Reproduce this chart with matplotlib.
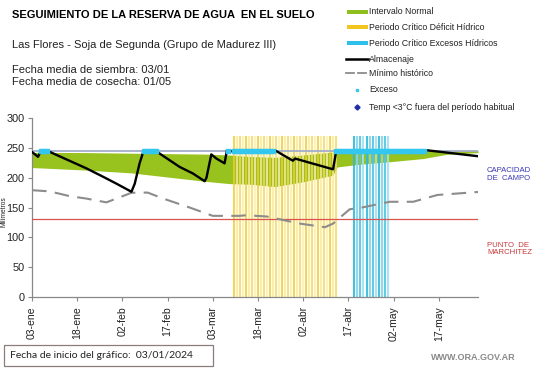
import matplotlib
matplotlib.use("Agg")
import matplotlib.pyplot as plt
from matplotlib.lines import Line2D
from matplotlib.patches import Rectangle
import numpy as np

plt.rcParams['font.family'] = ['Liberation Sans', 'DejaVu Sans']

# ---------------- data ----------------
tick_days = [0, 15, 30, 45, 60, 75, 90, 105, 120, 135]
tick_labels = ['03-ene', '18-ene', '02-feb', '17-feb', '03-mar', '18-mar',
               '02-abr', '17-abr', '02-may', '17-may']

# Almacenaje (days since 03-ene, mm)
alm_days = [0, 2.0, 3.1, 4.8, 7.0, 18.1, 23.6, 28.0, 33.0, 34.1, 35.7, 37.1,
            40.7, 49.0, 53.4, 57.3, 57.9, 59.5, 61.2, 63.9, 64.7, 65.6, 66.6,
            67.0, 80.6, 86.0, 86.6, 87.3, 99.9, 101.0, 130.9, 147.9]
alm_vals = [243, 235, 246, 246, 240.7, 215.5, 201.5, 190, 176.4, 190, 224, 246,
            246, 218, 207, 194, 200, 239, 232, 224, 246, 246, 243.5,
            246, 246, 230, 228.5, 232, 214, 246, 246, 236]

# Minimo historico
min_days = [0, 5.9, 12.5, 18, 24.7, 33, 38.4, 43.5, 52.3, 60, 68.9, 71, 77.8,
            80.6, 88.9, 97.2, 99.9, 105.4, 109.5, 118.7, 126.5, 134.5, 148]
min_vals = [179, 177, 169, 165, 158.6, 174.7, 175, 165, 150, 136, 136, 137, 135,
            132, 123, 117, 123, 147, 150, 159.6, 159.6, 171, 176]

# Intervalo normal
band_days = [0, 18, 33, 57.3, 65.6, 72.4, 80.6, 89.9, 99.8, 101.3, 107.9,
             118.7, 129.7, 137.5, 148]
band_low = [217, 212.7, 208, 194, 190, 189, 185, 193, 204, 218, 222,
            226.7, 232, 239, 242]
band_high = [242.5, 242, 241, 239.5, 238, 235.5, 234, 238, 243, 245, 245.5,
             245.5, 245.5, 245.5, 245.5]

# Excess periods (start day, end day)
exceso_periods = [(3, 5), (37, 41), (65, 65), (67, 80), (101, 130)]
# Critical periods (daily bars)
deficit_period = (67, 101)
excesos_period = (107, 118)
bar_top = 270

capacidad_campo = 245.5
punto_marchitez = 130.5

# ---------------- figure ----------------
W, H = 541, 368
fig = plt.figure(figsize=(W / 100, H / 100), dpi=100)
ax = fig.add_axes([32 / W, 1 - 297 / H, (478 - 32) / W, (297 - 118) / H])

ax.fill_between(band_days, band_low, band_high, color='#98C21D', lw=0, zorder=1)

# critical periods as daily vertical bars
ycols = ['#EFCB35', '#F9EA96', '#F4DA62', '#FBEFAE']
for i, d in enumerate(range(deficit_period[0], deficit_period[1] + 1)):
    ax.vlines(d, 0, bar_top, color=ycols[i % len(ycols)], lw=1.5, alpha=0.8, zorder=2)
ccols = ['#35B9DC', '#86D5EA', '#55C5E2', '#A2E0EF']
for i, d in enumerate(range(excesos_period[0], excesos_period[1] + 1)):
    ax.vlines(d, 0, bar_top, color=ccols[i % len(ccols)], lw=1.5, alpha=0.9, zorder=2)

ax.axhline(capacidad_campo, color='#A3AECB', lw=1.3, zorder=3)
ax.axhline(punto_marchitez, color='#D9534F', lw=0.9, zorder=3)

ax.plot(min_days, min_vals, color='#8C8C8C', lw=1.5, dashes=(7, 4), zorder=4)
ax.plot(alm_days, alm_vals, color='black', lw=1.7, zorder=5)

ex_days = []
for a, b in exceso_periods:
    ex_days.extend(range(a, b + 1))
ax.plot(ex_days, [capacidad_campo] * len(ex_days), ls='none', marker='s',
        ms=2.3, color='#33C6EE', mec='#33C6EE', zorder=6)

ax.set_xlim(0, 148)
ax.set_ylim(0, 300)
ax.set_yticks(range(0, 301, 50))
ax.set_xticks(tick_days)
ax.set_xticklabels(tick_labels, rotation=90, fontsize=7.5, color='#222222')
ax.tick_params(axis='y', labelsize=7.8, colors='#222222', length=3, width=0.8, pad=2.5)
ax.tick_params(axis='x', length=3, width=0.8, color='#888888')
ax.tick_params(axis='y', color='#888888')
for s in ['top', 'right']:
    ax.spines[s].set_visible(False)
for s in ['left', 'bottom']:
    ax.spines[s].set_color('#888888')
    ax.spines[s].set_linewidth(0.9)

# ---------------- texts ----------------
def fx(px):
    return px / W

def fy(py):
    return 1 - py / H

fig.text(fx(4), fy(212), 'Milímetros', fontsize=4.8, rotation=90,
         va='center', ha='center', color='#222222')

fig.text(fx(12), fy(15), 'SEGUIMIENTO DE LA RESERVA DE AGUA  EN EL SUELO',
         fontsize=8, fontweight='bold', va='center', ha='left')
fig.text(fx(12), fy(45), 'Las Flores - Soja de Segunda (Grupo de Madurez III)',
         fontsize=8, va='center', ha='left', color='#222222')
fig.text(fx(12), fy(70), 'Fecha media de siembra: 03/01',
         fontsize=8, va='center', ha='left', color='#222222')
fig.text(fx(12), fy(82), 'Fecha media de cosecha: 01/05',
         fontsize=8, va='center', ha='left', color='#222222')

# legend (manual)
leg_items = [
    ('patch', '#8DBE1E', 'Intervalo Normal'),
    ('patch', '#F3C51F', 'Periodo Crítico Déficit Hídrico'),
    ('patch', '#2CC0EA', 'Periodo Crítico Excesos Hídricos'),
    ('line', 'black', 'Almacenaje'),
    ('dash', '#8C8C8C', 'Mínimo histórico'),
    ('dot', '#33C6EE', 'Exceso'),
    ('diamond', '#1F2FA8', 'Temp <3°C fuera del período habitual'),
]
leg_y = [12, 27, 43, 59, 73, 90, 107]
for (kind, col, lab), py in zip(leg_items, leg_y):
    if kind == 'patch':
        fig.add_artist(Rectangle((fx(347), fy(py) - 2.0 / H), (21) / W, 4.0 / H,
                                 transform=fig.transFigure, color=col, lw=0))
    elif kind == 'line':
        fig.add_artist(Line2D([fx(346), fx(368)], [fy(py), fy(py)], color=col, lw=1.8,
                              transform=fig.transFigure))
    elif kind == 'dash':
        fig.add_artist(Line2D([fx(346), fx(354)], [fy(py), fy(py)], color=col, lw=1.3,
                              transform=fig.transFigure))
        fig.add_artist(Line2D([fx(358), fx(366)], [fy(py), fy(py)], color=col, lw=1.3,
                              transform=fig.transFigure))
    elif kind == 'dot':
        fig.add_artist(Line2D([fx(357)], [fy(py)], marker='s', ms=2.0, color=col,
                              ls='none', transform=fig.transFigure))
    elif kind == 'diamond':
        fig.add_artist(Line2D([fx(357)], [fy(py)], marker='D', ms=2.6, color=col,
                              ls='none', transform=fig.transFigure))
    fig.text(fx(369), fy(py), lab, fontsize=6.3, va='center', ha='left', color='#222222')

fig.text(fx(487), fy(167), 'CAPACIDAD\nDE  CAMPO', fontsize=5.6, color='#3A3AB5',
         va='top', ha='left', linespacing=1.1)
fig.text(fx(487), fy(242), 'PUNTO  DE\nMARCHITEZ', fontsize=5.6, color='#C8393A',
         va='top', ha='left', linespacing=1.1)

fig.add_artist(Rectangle((fx(4), fy(366)), (213 - 4) / W, (366 - 345) / H,
                         transform=fig.transFigure, fill=False, ec='#8E7B7B', lw=0.9))
fig.text(fx(10), fy(355.5), 'Fecha de inicio del gráfico:  03/01/2024', fontsize=7.5,
         va='center', ha='left', color='#222222', family=['Lato', 'DejaVu Sans'])
fig.text(fx(516), fy(358), 'WWW.ORA.GOV.AR', fontsize=6.5, fontweight='bold',
         va='center', ha='right', color='#8A8A8A')

fig.savefig('out.png', dpi=100)
